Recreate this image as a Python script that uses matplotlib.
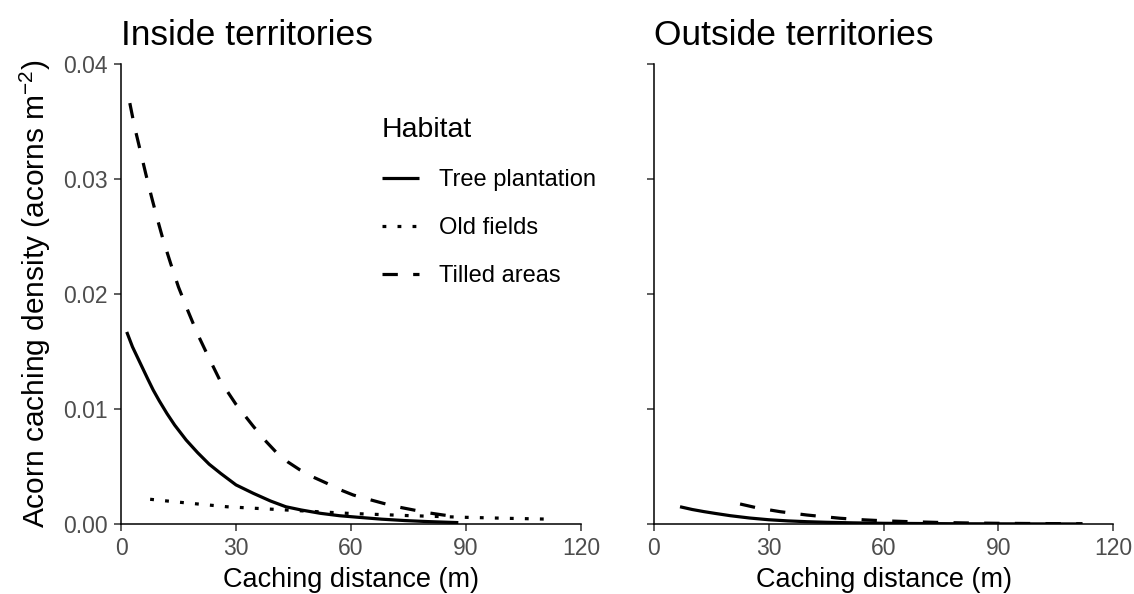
import matplotlib
matplotlib.use("Agg")
import matplotlib.pyplot as plt
from matplotlib.lines import Line2D

plt.rcParams['font.family'] = ['Liberation Sans', 'DejaVu Sans']
plt.rcParams['mathtext.fontset'] = 'custom'
plt.rcParams['mathtext.rm'] = 'Liberation Sans'
plt.rcParams['mathtext.it'] = 'Liberation Sans'
plt.rcParams['mathtext.default'] = 'regular'

# ---- data ----
panel_titles = ["Inside territories", "Outside territories"]
habitats = ["Tree plantation", "Old fields", "Tilled areas"]

# Inside territories
in_tree_x = [1.5, 3, 5, 7, 8.4, 10, 12, 14, 17, 20, 23, 26, 30, 34.5, 39, 43, 47, 52, 57, 62,
             68, 74, 80, 88]
in_tree_y = [0.0167, 0.0154, 0.0140, 0.0126, 0.01165, 0.0107, 0.0096, 0.0086, 0.0073, 0.0062,
             0.0052, 0.0044, 0.0034, 0.00267, 0.0020, 0.0015, 0.00122, 0.00093, 0.00072, 0.00058,
             0.00042, 0.0003, 0.00021, 0.00012]
in_old_x = [7.6, 15, 27.6, 43, 59, 75, 90, 100, 112]
in_old_y = [0.00215, 0.0019, 0.0015, 0.00122, 0.00093, 0.00073, 0.00058, 0.0005, 0.00042]
in_till_x = [2.3, 3.5, 5, 6.5, 8, 9.5, 11, 13, 15, 17.5, 20, 23, 25.8, 30, 34.5, 37.5, 40.6,
             43.5, 46.7, 50, 53.7, 57, 60.6, 64, 68.4, 72, 76.3, 80, 84.1, 87.5]
in_till_y = [0.0366, 0.0346, 0.0325, 0.0304, 0.0284, 0.0265, 0.0247, 0.0226, 0.0206, 0.0185,
             0.0165, 0.0144, 0.0125, 0.0104, 0.0085, 0.0073, 0.0062, 0.0054, 0.0047, 0.0041,
             0.00354, 0.0030, 0.00252, 0.0022, 0.0018, 0.0015, 0.00122, 0.00098, 0.00078, 0.00064]

# Outside territories
out_tree_x = [6.8, 10, 13, 16, 20, 25, 30, 35, 40, 45, 52, 60, 70, 80, 100, 112]
out_tree_y = [0.0015, 0.00126, 0.00108, 0.00092, 0.00072, 0.00052, 0.00037, 0.00027, 0.0002,
              0.00015, 0.0001, 0.00006, 0.00004, 0.00002, 0.00001, 0.000005]
out_till_x = [22.5, 27, 33, 40, 48.6, 55, 60, 67, 75, 82, 90, 100, 112]
out_till_y = [0.00174, 0.0014, 0.00107, 0.00078, 0.0005, 0.00036, 0.00028, 0.0002, 0.00013,
              0.00009, 0.00006, 0.00004, 0.00002]

x_ticks = [0, 30, 60, 90, 120]
y_ticks = [0.00, 0.01, 0.02, 0.03, 0.04]

# ---- styles ----
W, H = 1134, 594
fig = plt.figure(figsize=(W / 100, H / 100), dpi=100)
ax1 = fig.add_axes([121 / W, 1 - 524 / H, 460 / W, 460 / H])
ax2 = fig.add_axes([654 / W, 1 - 524 / H, 459 / W, 460 / H])

LW = 2.3
styles = {
    "Tree plantation": dict(linestyle='-'),
    "Old fields": dict(linestyle=(0, (1.2, 3.5))),
    "Tilled areas": dict(linestyle=(0, (4.8, 4.8))),
}

def draw(ax, x, y, hab):
    ax.plot(x, y, color='black', lw=LW, solid_capstyle='butt', dash_capstyle='butt',
            solid_joinstyle='round', **styles[hab])

draw(ax1, in_tree_x, in_tree_y, "Tree plantation")
draw(ax1, in_old_x, in_old_y, "Old fields")
draw(ax1, in_till_x, in_till_y, "Tilled areas")
draw(ax2, out_tree_x, out_tree_y, "Tree plantation")
draw(ax2, out_till_x, out_till_y, "Tilled areas")

for i, ax in enumerate([ax1, ax2]):
    ax.set_xlim(0, 120)
    ax.set_ylim(0, 0.04)
    ax.set_xticks(x_ticks)
    ax.set_yticks(y_ticks)
    ax.set_xticklabels([str(v) for v in x_ticks])
    ax.set_yticklabels(["%.2f" % v for v in y_ticks])
    for s in ['top', 'right']:
        ax.spines[s].set_visible(False)
    for s in ['left', 'bottom']:
        ax.spines[s].set_color('black')
        ax.spines[s].set_linewidth(1.1)
    ax.tick_params(axis='both', length=5, width=1.1, color='#333333',
                   labelcolor='#4D4D4D', labelsize=16.5, pad=4.5)
    ax.set_xlabel("Caching distance (m)", fontsize=19.5, labelpad=5)
    ax.set_title(panel_titles[i], loc='left', fontsize=25.5, pad=14)
    ax.patch.set_alpha(0)

ax2.tick_params(axis='y', labelleft=False)
ax1.set_ylabel("Acorn caching density (acorns m$^{-2}$)", fontsize=21.5, labelpad=7)

handles = [Line2D([], [], color='black', lw=LW, solid_capstyle='butt', dash_capstyle='butt',
                  **styles[h]) for h in habitats]
leg = ax1.legend(handles, habitats, title="Habitat", loc='upper left',
                 bbox_to_anchor=(382 / W, 1 - 117 / H), bbox_transform=fig.transFigure,
                 frameon=False, fontsize=17, title_fontsize=20.5,
                 handlelength=1.57, handletextpad=0.85, labelspacing=1.1,
                 borderpad=0, borderaxespad=0, alignment='left')

fig.savefig("out.png", dpi=100)
